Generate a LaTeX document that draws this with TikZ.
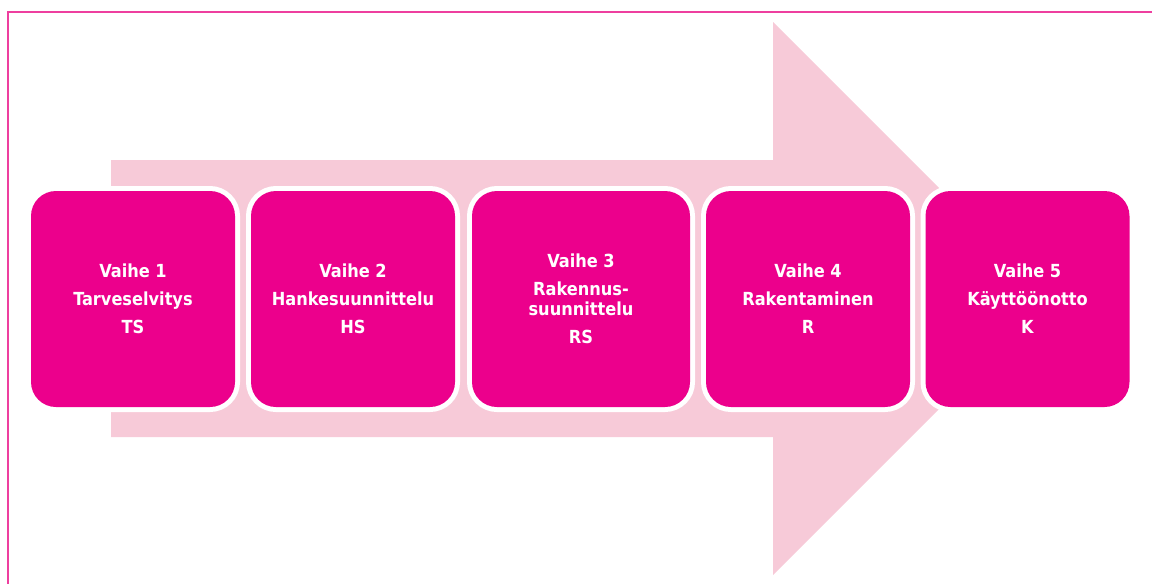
\documentclass[tikz,border=0pt]{standalone}
\usepackage{fontspec}
\setmainfont{DejaVu Sans Condensed}
\definecolor{magentabox}{HTML}{EC008C}
\definecolor{pinkarrow}{HTML}{F7CAD8}
\definecolor{framepink}{HTML}{EE3F9F}
\tikzset{
  phase/.style={rectangle, rounded corners=25pt, fill=magentabox,
    preaction={draw=white, line width=10pt},
    minimum width=204pt, minimum height=216pt, inner sep=0pt,
    align=center, text=white,
    font=\fontsize{18pt}{28pt}\selectfont\bfseries},
  bigarrow/.style={fill=pinkarrow, draw=none},
  framestyle/.style={draw=framepink, line width=1.4pt}
}
\begin{document}
\begin{tikzpicture}[x=1pt, y=-1pt]
  \useasboundingbox (0,0) rectangle (1152,584);
  % frame
  \draw[framestyle] (8,584) -- (8,12) -- (1152,12);
  % big arrow
  \fill[bigarrow] (111,160) -- (773,160) -- (773,22) -- (1049.5,298.5)
     -- (773,575) -- (773,437) -- (111,437) -- cycle;
  % phases
  \node[phase] (p1) at (133,299) {Vaihe 1\\Tarveselvitys\\TS};
  \node[phase] (p2) at (353,299) {Vaihe 2\\Hankesuunnittelu\\HS};
  \node[phase, minimum width=218pt] (p3) at (581,299) {Vaihe 3\\Rakennus-\\[-8pt]suunnittelu\\RS};
  \node[phase] (p4) at (808,299) {Vaihe 4\\Rakentaminen\\R};
  \node[phase] (p5) at (1027.5,299) {Vaihe 5\\Käyttöönotto\\K};
\end{tikzpicture}
\end{document}
